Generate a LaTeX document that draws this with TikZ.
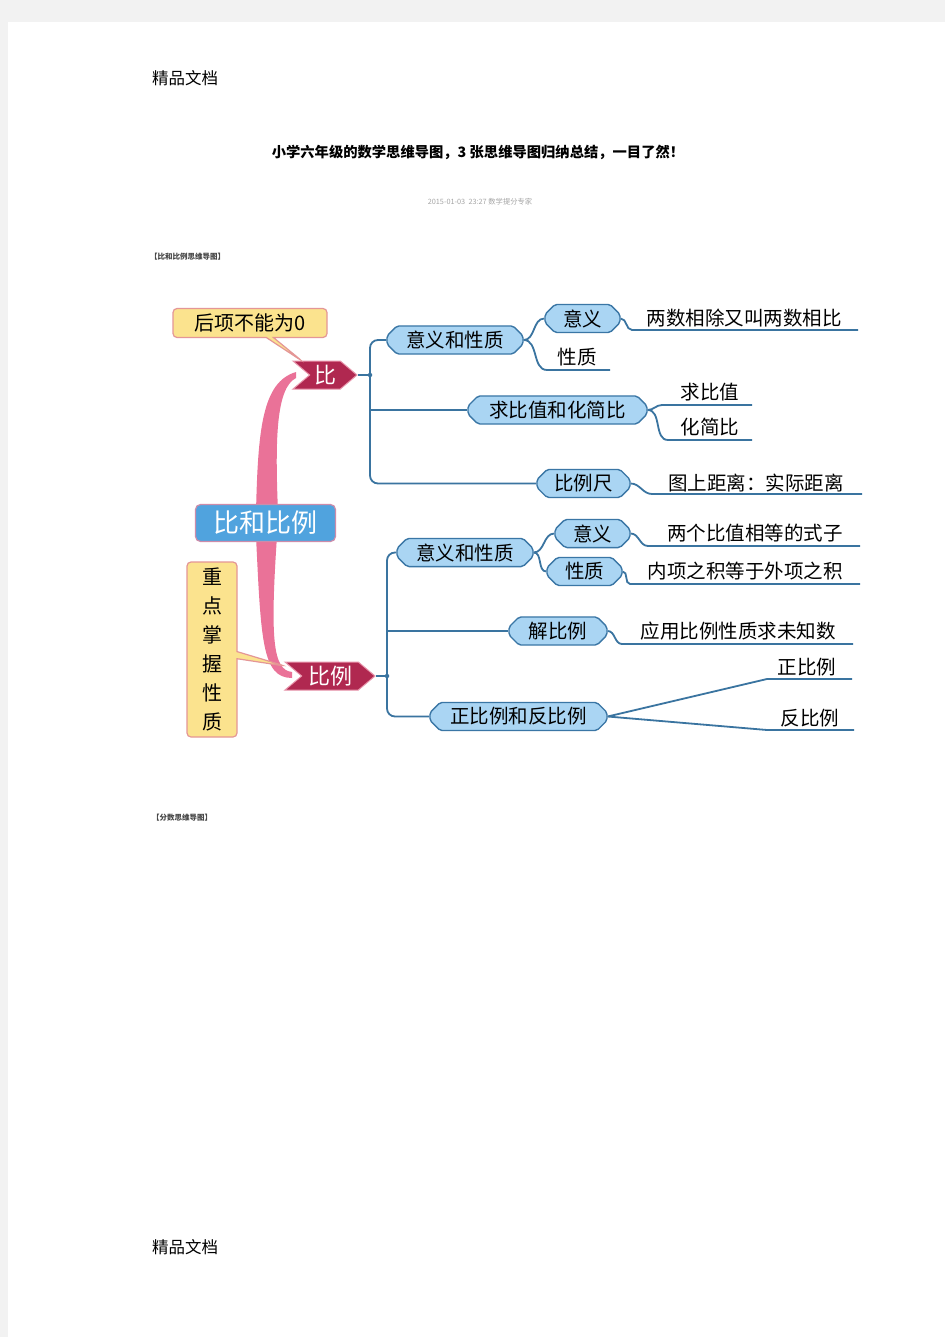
\documentclass[tikz,border=0pt]{standalone}
\usepackage{fontspec}
\setmainfont{Noto Sans CJK SC}
\usetikzlibrary{shapes.misc,shapes.symbols,shapes.callouts}
\definecolor{pagegray}{RGB}{242,242,242}
\definecolor{crim}{RGB}{176,40,80}
\definecolor{crimedge}{RGB}{232,150,172}
\definecolor{yel}{RGB}{251,227,142}
\definecolor{yeledge}{RGB}{228,150,150}
\definecolor{lblue}{RGB}{170,213,243}
\definecolor{bedge}{RGB}{58,118,165}
\definecolor{linec}{RGB}{58,116,160}
\definecolor{cblue}{RGB}{80,163,222}
\definecolor{cedge}{RGB}{205,140,170}
\definecolor{pinkb}{RGB}{234,114,152}
\definecolor{dgray}{RGB}{70,70,70}
\definecolor{lgray}{RGB}{165,165,165}
\begin{document}
\begin{tikzpicture}[x=1pt,y=-1pt,
  conn/.style={draw=linec,line width=1.8pt},
  mbox/.style={chamfered rectangle,chamfered rectangle xsep=5pt,chamfered rectangle ysep=5pt,
    rounded corners=2pt,fill=lblue,draw=bedge,line width=1.4pt,
    minimum height=23pt,inner sep=0pt,font=\fontsize{19.5}{20}\selectfont},
  flag/.style={signal,signal to=east,signal from=west,signal pointer angle=80,
    fill=crim,draw=crimedge,line width=1pt,text=white,minimum height=28pt,inner sep=0pt,
    font=\fontsize{22}{23}\selectfont},
  leaf/.style={inner sep=0pt,font=\fontsize{19.5}{20}\selectfont,text=black},
  note/.style={rectangle callout,fill=yel,draw=yeledge,line width=1.2pt,rounded corners=4pt,
    inner sep=0pt,font=\fontsize{20}{29}\selectfont},
  dotc/.style={fill=linec,circle,inner sep=0pt,minimum size=4.5pt}
]
\useasboundingbox (0,0) rectangle (945,1337);
\fill[pagegray] (0,0) rectangle (945,1337);
\fill[white] (8,22) rectangle (945,1337);

% header texts
\node[anchor=west,inner sep=0pt,font=\fontsize{16.5}{17}\selectfont] (hd) at (152,78) {精品文档};
\node[inner sep=0pt,font=\fontsize{14.3}{16}\selectfont\bfseries] (title) at (478,152) {小学六年级的数学思维导图，3 张思维导图归纳总结，一目了然！};
\node[inner sep=0pt,text=lgray,font=\fontsize{7.3}{8}\selectfont] (date) at (480,202) {2015-01-03\ \ 23:27 数学提分专家};
\node[anchor=west,inner sep=0pt,text=dgray,font=\fontsize{7.5}{8}\selectfont\bfseries] (sec1) at (150,257) {【比和比例思维导图】};
\node[anchor=west,inner sep=0pt,text=dgray,font=\fontsize{7.5}{8}\selectfont\bfseries] (sec2) at (152,818) {【分数思维导图】};
\node[anchor=west,inner sep=0pt,font=\fontsize{16.5}{17}\selectfont] (ft) at (152,1247) {精品文档};

% pink main branches
\fill[pinkb] (256,512) .. controls (258,430) and (262,382) .. (296,372)
  -- (296,378) .. controls (276,388) and (275,440) .. (278,512) -- cycle;
\fill[pinkb] (256,536) .. controls (261,640) and (262,678) .. (292,678)
  -- (292,672) .. controls (273,670) and (270,640) .. (277,536) -- cycle;

% central node
\node[rectangle,rounded corners=5pt,fill=cblue,draw=cedge,line width=1.2pt,
  minimum width=140pt,minimum height=37pt,inner sep=0pt,text=white,
  font=\fontsize{26}{27}\selectfont] (root) at (265.5,523) {比和比例};

% level-1 nodes
\node[flag,minimum width=64pt] (bi) at (325,375) {比};
\node[flag,minimum width=90pt] (bili) at (330,676) {比例};

% callouts
\node[note,minimum width=154pt,minimum height=29pt,callout absolute pointer={(302,361)}] (c1) at (250,323) {后项不能为0};
\node[note,minimum width=50pt,minimum height=175pt,align=center,callout absolute pointer={(285,666)}] (c2) at (212,649.5) {重\\点\\掌\\握\\性\\质};

% ---- upper branch: 比 ----
\node[mbox,minimum width=136pt] (a1) at (455,340) {意义和性质};
\node[mbox,minimum width=179pt] (a2) at (557.5,410) {求比值和化简比};
\node[mbox,minimum width=93pt] (a3) at (583.5,483.5) {比例尺};
\node[mbox,minimum width=75pt] (a11) at (582.5,318.5) {意义};
\node[leaf] (a12) at (577,357) {性质};
\node[leaf] (l11) at (744,318) {两数相除又叫两数相比};
\node[leaf] (l21) at (710,392) {求比值};
\node[leaf] (l22) at (710,427) {化简比};
\node[leaf] (l3) at (756,483) {图上距离：实际距离};

\coordinate (t1) at (370,375);
\coordinate (u12a) at (547,370); \coordinate (u12b) at (610,370);
\coordinate (u11a) at (632,330); \coordinate (u11b) at (858,330);
\coordinate (u21a) at (662,405); \coordinate (u21b) at (752,405);
\coordinate (u22a) at (668,440); \coordinate (u22b) at (752,440);
\coordinate (u3a) at (652,494); \coordinate (u3b) at (862,494);

\draw[conn] (bi.east) -- (t1);
\draw[conn,rounded corners=8pt] (a1.west) -| (t1) |- (a3.west);
\draw[conn] (t1 |- a2.west) -- (a2.west);
\draw[conn] (a1.east) to[out=0,in=180] (a11.west);
\draw[conn] (a1.east) to[out=0,in=180] (u12a) -- (u12b);
\draw[conn] (a11.east) to[out=0,in=180] (u11a) -- (u11b);
\draw[conn] (a2.east) to[out=0,in=180] (u21a) -- (u21b);
\draw[conn] (a2.east) to[out=0,in=180] (u22a) -- (u22b);
\draw[conn] (a3.east) to[out=0,in=180] (u3a) -- (u3b);
\node[dotc] (d1) at (t1) {};

% ---- lower branch: 比例 ----
\node[mbox,minimum width=136pt] (b1) at (465,552.5) {意义和性质};
\node[mbox,minimum width=98pt] (b2) at (558,631) {解比例};
\node[mbox,minimum width=177pt] (b3) at (518.5,716.5) {正比例和反比例};
\node[mbox,minimum width=75pt] (b11) at (592.5,533.5) {意义};
\node[mbox,minimum width=75pt] (b12) at (584.5,571.5) {性质};
\node[leaf] (m11) at (755,533) {两个比值相等的式子};
\node[leaf] (m12) at (745,571.5) {内项之积等于外项之积};
\node[leaf] (m2) at (738,631.5) {应用比例性质求未知数};
\node[leaf] (m31) at (807,667) {正比例};
\node[leaf] (m32) at (810,718) {反比例};

\coordinate (t2) at (387,676);
\coordinate (v11a) at (648,546); \coordinate (v11b) at (860,546);
\coordinate (v12a) at (630,584); \coordinate (v12b) at (860,584);
\coordinate (v2a) at (622,644); \coordinate (v2b) at (853,644);
\coordinate (v31a) at (767,679); \coordinate (v31b) at (852,679);
\coordinate (v32a) at (767,730); \coordinate (v32b) at (854,730);

\draw[conn] (bili.east) -- (t2);
\draw[conn,rounded corners=8pt] (b1.west) -| (t2) |- (b3.west);
\draw[conn] (t2 |- b2.west) -- (b2.west);
\draw[conn] (b1.east) to[out=0,in=180] (b11.west);
\draw[conn] (b1.east) to[out=0,in=180] (b12.west);
\draw[conn] (b11.east) to[out=0,in=180] (v11a) -- (v11b);
\draw[conn] (b12.east) to[out=0,in=180] (v12a) -- (v12b);
\draw[conn] (b2.east) to[out=0,in=180] (v2a) -- (v2b);
\draw[conn] (b3.east) -- (v31a) -- (v31b);
\draw[conn] (b3.east) -- (v32a) -- (v32b);
\node[dotc] (d2) at (t2) {};
\end{tikzpicture}
\end{document}
